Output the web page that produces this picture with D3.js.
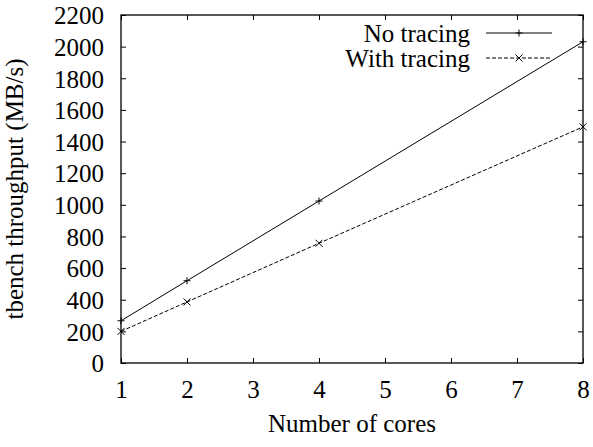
<!DOCTYPE html>
<html>
<head>
<meta charset="utf-8">
<script src="https://cdn.jsdelivr.net/npm/d3@7"></script>
<style>
body{margin:0;background:#fff;}
text{font-family:"Liberation Serif","Times New Roman",serif;fill:#000;}
</style>
</head>
<body>
<script>
var w=593,h=447;
var cores=[1,2,4,8];
var noTracing=[267,520,1024,2031];
var withTracing=[200,386,757,1493];
var seriesNames=['No tracing','With tracing'];
var xTicks=[1,2,3,4,5,6,7,8];
var yTicks=d3.range(0,2201,200);

var m={left:121,right:10,top:15,bottom:84};
var fs='25px';
var svg=d3.select('body').append('svg').attr('width',w).attr('height',h);
var x=d3.scaleLinear().domain([1,8]).range([m.left,w-m.right]);
var y=d3.scaleLinear().domain([0,2200]).range([h-m.bottom,m.top]);
var tk=5;

// axes: bottom/left with labels, top/right mirrored ticks only
svg.append('g').attr('transform','translate(0,'+(h-m.bottom)+')')
  .call(d3.axisBottom(x).tickValues(xTicks).tickSize(-tk).tickPadding(17).tickFormat(d3.format('d')))
  .call(function(g){g.select('.domain').remove();g.selectAll('text').style('font-size',fs);});
svg.append('g').attr('transform','translate('+m.left+',0)')
  .call(d3.axisLeft(y).tickValues(yTicks).tickSize(-tk).tickPadding(17).tickFormat(d3.format('d')))
  .call(function(g){g.select('.domain').remove();g.selectAll('text').style('font-size',fs).attr('dy','0.35em');});
svg.append('g').attr('transform','translate(0,'+m.top+')')
  .call(d3.axisTop(x).tickValues(xTicks).tickSize(-tk).tickFormat(''))
  .call(function(g){g.select('.domain').remove();});
svg.append('g').attr('transform','translate('+(w-m.right)+',0)')
  .call(d3.axisRight(y).tickValues(yTicks).tickSize(-tk).tickFormat(''))
  .call(function(g){g.select('.domain').remove();});
svg.selectAll('.tick line').attr('stroke','#000');

svg.append('rect').attr('x',m.left).attr('y',m.top)
  .attr('width',w-m.left-m.right).attr('height',h-m.top-m.bottom)
  .attr('fill','none').attr('stroke','#000').attr('stroke-width',1.3);

var line=d3.line().x(function(d){return x(d[0]);}).y(function(d){return y(d[1]);});
var series=[
  {name:seriesNames[0],vals:noTracing,dash:null,mark:'plus'},
  {name:seriesNames[1],vals:withTracing,dash:'4,2',mark:'cross'}
];
function marker(g,cx,cy,type){
  var s=3.5;
  if(type=='plus'){
    g.append('path').attr('d','M'+(cx-s)+','+cy+'H'+(cx+s)+'M'+cx+','+(cy-s)+'V'+(cy+s));
  }else{
    g.append('path').attr('d','M'+(cx-s)+','+(cy-s)+'L'+(cx+s)+','+(cy+s)+'M'+(cx-s)+','+(cy+s)+'L'+(cx+s)+','+(cy-s));
  }
}
series.forEach(function(s,i){
  var pts=cores.map(function(c,j){return [c,s.vals[j]];});
  var g=svg.append('g').attr('stroke','#000').attr('fill','none').attr('stroke-width',1);
  g.append('path').attr('d',line(pts)).attr('stroke-dasharray',s.dash);
  pts.forEach(function(p){marker(g,x(p[0]),y(p[1]),s.mark);});
  // legend
  var ly=33+i*25;
  svg.append('text').attr('x',470).attr('y',ly).attr('dy','0.35em').attr('text-anchor','end')
    .style('font-size',fs).text(s.name);
  var lg=svg.append('g').attr('stroke','#000').attr('fill','none').attr('stroke-width',1);
  lg.append('line').attr('x1',486).attr('x2',552).attr('y1',ly).attr('y2',ly).attr('stroke-dasharray',s.dash);
  marker(lg,519,ly,s.mark);
});

svg.append('text').attr('x',x(4.5)).attr('y',432).attr('text-anchor','middle')
  .style('font-size',fs).text('Number of cores');
svg.append('text').attr('transform','translate(23,'+y(1100)+') rotate(-90)').attr('text-anchor','middle')
  .style('font-size',fs).text('tbench throughput (MB/s)');
</script>
</body>
</html>
